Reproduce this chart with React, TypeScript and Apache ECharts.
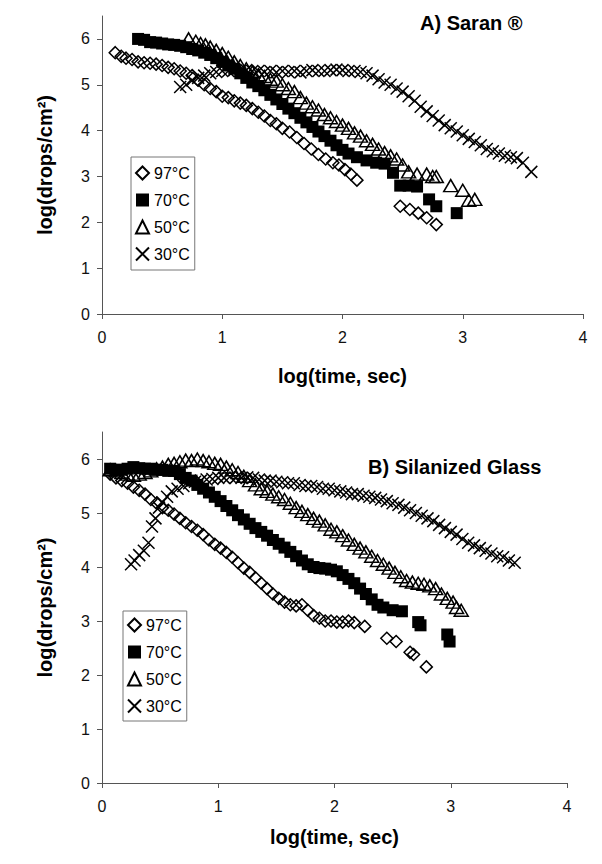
import React, { useEffect, useRef } from "react";
import * as echarts from "echarts";

// ---------- data ----------
const seriesNames = ["97°C", "70°C", "50°C", "30°C"];
const xTicks = [0, 1, 2, 3, 4];
const yTicks = [0, 1, 2, 3, 4, 5, 6];
const titleA = "A) Saran ®";
const titleB = "B) Silanized Glass";

// Panel A (Saran)
const a97 = [[0.11,5.70],[0.16,5.62],[0.2,5.58],[0.25,5.55],[0.3,5.50],[0.35,5.48],[0.4,5.47],[0.45,5.45],[0.5,5.42],[0.55,5.38],[0.6,5.35],[0.65,5.3],[0.7,5.25],[0.75,5.2],[0.8,5.1],[0.85,5.0],[0.9,4.92],[0.95,4.85],[1.0,4.75],[1.05,4.72],[1.1,4.65],[1.15,4.6],[1.2,4.55],[1.25,4.48],[1.3,4.4],[1.35,4.32],[1.4,4.22],[1.45,4.15],[1.5,4.05],[1.56,3.97],[1.62,3.85],[1.68,3.72],[1.74,3.6],[1.8,3.48],[1.86,3.38],[1.92,3.3],[1.97,3.25],[2.02,3.15],[2.07,3.05],[2.12,2.92],[2.48,2.35],[2.56,2.28],[2.63,2.2],[2.7,2.1],[2.78,1.95]];
const a70 = [[0.3,6.0],[0.35,5.98],[0.4,5.93],[0.45,5.92],[0.5,5.9],[0.55,5.88],[0.6,5.87],[0.65,5.85],[0.7,5.82],[0.75,5.78],[0.8,5.75],[0.85,5.7],[0.9,5.65],[0.95,5.58],[1.0,5.5],[1.05,5.42],[1.1,5.35],[1.15,5.25],[1.2,5.15],[1.25,5.05],[1.3,4.97],[1.35,4.88],[1.4,4.78],[1.45,4.68],[1.5,4.58],[1.55,4.48],[1.6,4.38],[1.65,4.28],[1.7,4.18],[1.75,4.08],[1.8,3.98],[1.85,3.88],[1.9,3.78],[1.95,3.68],[2.0,3.58],[2.05,3.5],[2.12,3.42],[2.2,3.35],[2.28,3.3],[2.35,3.28],[2.42,3.08],[2.48,2.8],[2.55,2.8],[2.62,2.78],[2.72,2.5],[2.78,2.35],[2.95,2.2]];
const a50 = [[0.72,6.0],[0.78,5.95],[0.82,5.9],[0.86,5.87],[0.9,5.82],[0.95,5.75],[1.0,5.68],[1.05,5.6],[1.1,5.5],[1.15,5.42],[1.2,5.35],[1.25,5.28],[1.3,5.22],[1.35,5.18],[1.4,5.12],[1.45,5.08],[1.5,5.0],[1.55,4.92],[1.6,4.85],[1.65,4.72],[1.7,4.6],[1.75,4.52],[1.8,4.45],[1.85,4.35],[1.9,4.28],[1.95,4.2],[2.0,4.12],[2.05,4.05],[2.1,3.95],[2.15,3.88],[2.2,3.78],[2.25,3.7],[2.3,3.6],[2.35,3.52],[2.4,3.45],[2.45,3.38],[2.5,3.25],[2.55,3.1],[2.62,3.05],[2.7,3.05],[2.75,3.0],[2.78,3.0],[2.9,2.8],[3.0,2.7],[3.05,2.48],[3.1,2.5]];
const a30 = [[0.65,4.95],[0.7,5.0],[0.75,5.1],[0.8,5.15],[0.85,5.2],[0.9,5.25],[0.95,5.28],[1.0,5.3],[1.05,5.3],[1.1,5.32],[1.15,5.3],[1.2,5.32],[1.25,5.3],[1.3,5.3],[1.35,5.28],[1.4,5.3],[1.45,5.27],[1.5,5.3],[1.55,5.28],[1.6,5.3],[1.65,5.27],[1.7,5.3],[1.75,5.32],[1.8,5.3],[1.85,5.3],[1.9,5.32],[1.95,5.33],[2.0,5.32],[2.05,5.3],[2.1,5.3],[2.15,5.28],[2.2,5.25],[2.25,5.2],[2.3,5.12],[2.35,5.05],[2.4,5.0],[2.45,4.92],[2.5,4.85],[2.55,4.75],[2.6,4.65],[2.65,4.52],[2.7,4.42],[2.75,4.32],[2.8,4.22],[2.85,4.12],[2.9,4.05],[2.95,3.98],[3.0,3.9],[3.05,3.82],[3.1,3.75],[3.15,3.68],[3.2,3.6],[3.25,3.55],[3.3,3.5],[3.35,3.45],[3.4,3.42],[3.45,3.4],[3.5,3.3],[3.57,3.1]];

// Panel B (Silanized Glass)
const b97 = [[0.07,5.72],[0.12,5.65],[0.17,5.6],[0.22,5.55],[0.27,5.48],[0.32,5.42],[0.37,5.35],[0.42,5.25],[0.47,5.18],[0.52,5.1],[0.57,5.05],[0.62,4.98],[0.67,4.9],[0.72,4.82],[0.77,4.75],[0.82,4.68],[0.87,4.6],[0.92,4.5],[0.97,4.42],[1.02,4.35],[1.07,4.27],[1.12,4.18],[1.17,4.08],[1.22,3.98],[1.27,3.9],[1.32,3.8],[1.37,3.7],[1.42,3.6],[1.47,3.5],[1.52,3.42],[1.57,3.35],[1.62,3.3],[1.67,3.28],[1.72,3.3],[1.77,3.2],[1.82,3.1],[1.87,3.05],[1.92,3.0],[1.97,3.0],[2.02,2.98],[2.07,2.98],[2.12,3.0],[2.17,2.97],[2.26,2.9],[2.45,2.68],[2.53,2.62],[2.65,2.42],[2.68,2.38],[2.79,2.15]];
const b70 = [[0.07,5.82],[0.12,5.8],[0.17,5.8],[0.22,5.82],[0.27,5.85],[0.32,5.83],[0.37,5.82],[0.42,5.82],[0.47,5.8],[0.52,5.8],[0.57,5.78],[0.62,5.78],[0.67,5.72],[0.72,5.65],[0.77,5.6],[0.82,5.52],[0.87,5.45],[0.92,5.38],[0.97,5.3],[1.02,5.22],[1.07,5.13],[1.12,5.05],[1.17,4.96],[1.22,4.88],[1.27,4.8],[1.32,4.72],[1.37,4.65],[1.42,4.58],[1.47,4.5],[1.52,4.43],[1.57,4.36],[1.62,4.28],[1.67,4.2],[1.72,4.12],[1.77,4.05],[1.82,4.0],[1.87,3.98],[1.92,3.97],[1.97,3.95],[2.02,3.92],[2.07,3.85],[2.12,3.78],[2.17,3.7],[2.22,3.6],[2.27,3.5],[2.32,3.4],[2.37,3.3],[2.42,3.25],[2.5,3.2],[2.58,3.18],[2.72,2.98],[2.74,2.92],[2.97,2.75],[2.99,2.62]];
const b50 = [[0.07,5.8],[0.12,5.78],[0.17,5.75],[0.22,5.72],[0.27,5.7],[0.32,5.72],[0.37,5.75],[0.42,5.78],[0.47,5.82],[0.52,5.85],[0.57,5.9],[0.62,5.92],[0.67,5.95],[0.72,5.98],[0.77,5.97],[0.82,6.0],[0.87,5.97],[0.92,5.95],[0.97,5.92],[1.02,5.9],[1.07,5.85],[1.12,5.8],[1.17,5.75],[1.22,5.68],[1.27,5.6],[1.32,5.52],[1.37,5.45],[1.42,5.4],[1.47,5.35],[1.52,5.3],[1.57,5.25],[1.62,5.18],[1.67,5.1],[1.72,5.03],[1.77,4.97],[1.82,4.9],[1.87,4.85],[1.92,4.78],[1.97,4.7],[2.02,4.65],[2.07,4.58],[2.12,4.5],[2.17,4.42],[2.22,4.35],[2.27,4.28],[2.32,4.2],[2.37,4.12],[2.42,4.05],[2.47,3.98],[2.52,3.9],[2.57,3.82],[2.62,3.75],[2.67,3.72],[2.72,3.7],[2.77,3.68],[2.82,3.65],[2.87,3.6],[2.92,3.5],[2.97,3.42],[3.02,3.35],[3.05,3.25],[3.09,3.2]];
const b30 = [[0.25,4.05],[0.28,4.12],[0.32,4.22],[0.36,4.3],[0.4,4.45],[0.43,4.75],[0.46,4.9],[0.49,5.1],[0.52,5.2],[0.56,5.3],[0.6,5.4],[0.65,5.45],[0.7,5.5],[0.75,5.55],[0.8,5.58],[0.85,5.6],[0.9,5.62],[0.95,5.63],[1.0,5.65],[1.05,5.65],[1.1,5.67],[1.15,5.65],[1.2,5.65],[1.25,5.66],[1.3,5.65],[1.35,5.62],[1.4,5.6],[1.45,5.6],[1.5,5.58],[1.55,5.57],[1.6,5.55],[1.65,5.55],[1.7,5.52],[1.75,5.5],[1.8,5.5],[1.85,5.48],[1.9,5.45],[1.95,5.45],[2.0,5.42],[2.05,5.4],[2.1,5.38],[2.15,5.35],[2.2,5.35],[2.25,5.32],[2.3,5.3],[2.35,5.28],[2.4,5.25],[2.45,5.22],[2.5,5.18],[2.55,5.15],[2.6,5.1],[2.65,5.05],[2.7,5.0],[2.75,4.95],[2.8,4.9],[2.85,4.85],[2.9,4.78],[2.95,4.72],[3.0,4.65],[3.05,4.6],[3.1,4.52],[3.15,4.45],[3.2,4.4],[3.25,4.35],[3.3,4.3],[3.35,4.25],[3.4,4.2],[3.45,4.18],[3.5,4.12],[3.55,4.08]];

const FONT = "'Liberation Sans', Arial, sans-serif";
const CROSS = "path://M0,0L10,10M10,0L0,10";

function makeSeries(name: string, data: number[][], idx: number) {
  const base: any = {
    type: "scatter",
    name,
    data,
    xAxisIndex: idx,
    yAxisIndex: idx,
    emphasis: { disabled: true },
    silent: true,
  };
  if (name === "97°C") {
    base.symbol = "diamond";
    base.symbolSize = [12, 12];
    base.itemStyle = { color: "rgba(255,255,255,0)", borderColor: "#000", borderWidth: 1.5, opacity: 1 };
  } else if (name === "70°C") {
    base.symbol = "rect";
    base.symbolSize = [12, 12];
    base.itemStyle = { color: "#000", borderColor: "#000", borderWidth: 0, opacity: 1 };
  } else if (name === "50°C") {
    base.symbol = "triangle";
    base.symbolSize = [14, 12];
    base.itemStyle = { color: "rgba(255,255,255,0)", borderColor: "#000", borderWidth: 1.5, opacity: 1 };
  } else {
    base.symbol = CROSS;
    base.symbolSize = [12, 12];
    base.itemStyle = { color: "rgba(255,255,255,0)", borderColor: "#000", borderWidth: 1.5, opacity: 1 };
  }
  return base;
}

function xAxisDef(gridIndex: number, nameGap: number) {
  return {
    type: "value",
    gridIndex,
    min: 0,
    max: 4,
    interval: 1,
    name: "log(time, sec)",
    nameLocation: "middle",
    nameGap,
    nameTextStyle: { fontFamily: FONT, fontSize: 20, fontWeight: "bold", color: "#000" },
    axisLine: { show: true, onZero: false, lineStyle: { color: "#555", width: 1 } },
    axisTick: { show: true, length: 5, customValues: xTicks, lineStyle: { color: "#555" } },
    axisLabel: { fontFamily: FONT, fontSize: 16, color: "#111", margin: 15, customValues: xTicks },
    splitLine: { show: false },
  };
}

function yAxisDef(gridIndex: number) {
  return {
    type: "value",
    gridIndex,
    min: 0,
    max: 6.5,
    name: "log(drops/cm²)",
    nameLocation: "middle",
    nameRotate: 90,
    nameGap: 47,
    nameTextStyle: { fontFamily: FONT, fontSize: 20, fontWeight: "bold", color: "#000" },
    axisLine: { show: true, onZero: false, lineStyle: { color: "#555", width: 1 } },
    axisTick: { show: true, length: 5, customValues: yTicks, lineStyle: { color: "#555" } },
    axisLabel: { fontFamily: FONT, fontSize: 16, color: "#111", margin: 12, customValues: yTicks },
    splitLine: { show: false },
  };
}

function legendDef(left: number, top: number, padding: number[]) {
  return {
    orient: "vertical",
    left,
    top,
    data: seriesNames,
    selectedMode: false,
    borderColor: "#777",
    borderWidth: 1,
    borderRadius: 0,
    padding,
    itemGap: 9,
    itemWidth: 13,
    itemHeight: 13,
    textStyle: { fontFamily: FONT, fontSize: 16, color: "#000", lineHeight: 18 },
  };
}

export default function App() {
  const ref = useRef<HTMLDivElement>(null);
  useEffect(() => {
    if (!ref.current) return;
    const chart = echarts.init(ref.current, undefined, { renderer: "svg" });
    const topSets = [a97, a70, a50, a30];
    const botSets = [b97, b70, b50, b30];
    const series: any[] = [];
    seriesNames.forEach((n, i) => series.push(makeSeries(n, topSets[i], 0)));
    seriesNames.forEach((n, i) => series.push(makeSeries(n, botSets[i], 1)));
    chart.setOption({
      animation: false,
      backgroundColor: "#fff",
      title: [
        { text: titleA, left: 420, top: 13, padding: 0, textStyle: { fontFamily: FONT, fontSize: 20, fontWeight: "bold", color: "#000" } },
        { text: titleB, left: 368, top: 457, padding: 0, textStyle: { fontFamily: FONT, fontSize: 20, fontWeight: "bold", color: "#000" } },
      ],
      legend: [legendDef(131, 157, [7, 5, 7, 4]), legendDef(123, 611, [5, 5, 6, 4])],
      grid: [
        { left: 102, top: 16, width: 481, height: 298, containLabel: false },
        { left: 102, top: 432, width: 465, height: 351, containLabel: false },
      ],
      xAxis: [xAxisDef(0, 52), xAxisDef(1, 44)],
      yAxis: [yAxisDef(0), yAxisDef(1)],
      series,
    });
    return () => chart.dispose();
  }, []);
  return (
    <div
      ref={ref}
      style={{ position: "absolute", left: 0, top: 0, width: 602, height: 864, background: "#fff" }}
    />
  );
}
